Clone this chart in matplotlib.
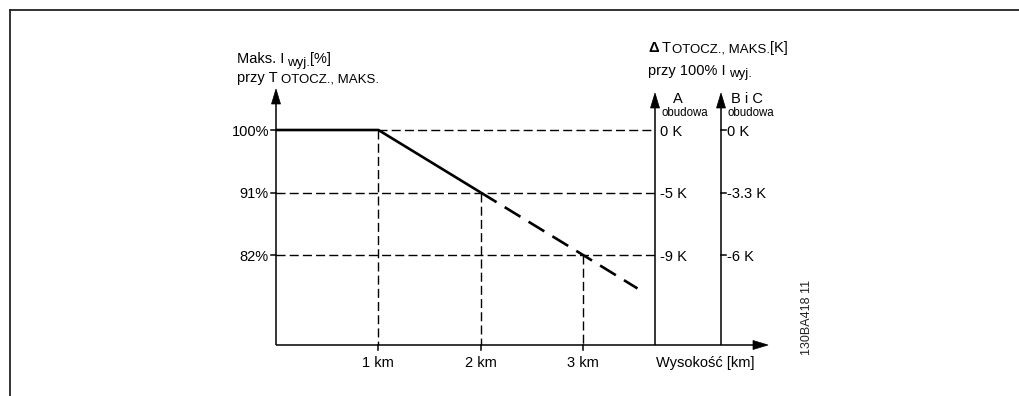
import matplotlib
matplotlib.use("Agg")
import matplotlib.pyplot as plt
from matplotlib.transforms import Affine2D
from matplotlib.patches import Polygon

plt.rcParams['font.family'] = ['Liberation Sans', 'DejaVu Sans']

# ---- data -------------------------------------------------------------
altitude_km = [0, 1, 2]                 # solid derating curve
max_current_pct = [100, 100, 91]
ext_altitude_km = [2, 3, 3.53]          # dashed continuation
ext_current_pct = [91, 82, 77.2]
tick_km = [1, 2, 3]
tick_km_labels = ['1 km', '2 km', '3 km']
level_pct = [100, 91, 82]
level_labels = ['100%', '91%', '82%']
delta_t_a = ['0 K', '-5 K', '-9 K']        # enclosure A
delta_t_bc = ['0 K', '-3.3 K', '-6 K']     # enclosures B and C

# ---- canvas -----------------------------------------------------------
W, H = 1019, 396
fig = plt.figure(figsize=(W / 100, H / 100), dpi=100)
fig.patch.set_facecolor('white')
ax = fig.add_axes([0, 0, 1, 1])
ax.axis('off')

# pixel layout of the data scale
X0, SX = 276.0, 102.4      # x pixel of 0 km, pixels per km
Y100, SY = 130.0, 6.95     # y pixel of 100 %, pixels per %
ax.set_xlim(-X0 / SX, (W - X0) / SX)
ax.set_ylim(100 - (H - Y100) / SY, 100 + Y100 / SY)

def km(px):
    return (px - X0) / SX

def pct(py):
    return 100 - (py - Y100) / SY

BLACK = '#000000'
base_pct = pct(345)          # horizontal axis position
top_pct = pct(89)            # arrow tips of the vertical axes
axis_a_km = km(655)
axis_bc_km = km(721)
xaxis_end_km = km(768)

# outer frame (top and left edges)
fig.add_artist(plt.Line2D([10 / W, 1], [1 - 9.5 / H] * 2, transform=fig.transFigure,
                          color='#222222', lw=1.3))
fig.add_artist(plt.Line2D([10 / W] * 2, [0, 1 - 9.5 / H], transform=fig.transFigure,
                          color='#222222', lw=1.3))

AX_LW = 1.1
GRID_KW = dict(color=BLACK, lw=1.0, dashes=(6.5, 3))

def arrow(x_km, y_pct, direction):
    """Filled triangular arrow head with its tip at (x_km, y_pct)."""
    L, Wd = 15, 4.5
    if direction == 'up':
        pts = [(x_km, y_pct), (x_km - Wd / SX, y_pct - L / SY), (x_km + Wd / SX, y_pct - L / SY)]
    else:
        pts = [(x_km, y_pct), (x_km - L / SX, y_pct + Wd / SY), (x_km - L / SX, y_pct - Wd / SY)]
    ax.add_patch(Polygon(pts, closed=True, facecolor=BLACK, edgecolor=BLACK, lw=0.5))

# axes
ax.plot([0, 0], [base_pct, top_pct - 2 / SY], color=BLACK, lw=AX_LW, solid_capstyle='butt')
arrow(0, top_pct, 'up')
ax.plot([0, xaxis_end_km - 2 / SX], [base_pct, base_pct], color=BLACK, lw=AX_LW,
        solid_capstyle='butt')
arrow(xaxis_end_km, base_pct, 'right')
for xa in (axis_a_km, axis_bc_km):
    ax.plot([xa, xa], [base_pct, top_pct - 6 / SY], color=BLACK, lw=AX_LW, solid_capstyle='butt')
    arrow(xa, top_pct - 4 / SY, 'up')

# reference grid lines
ax.plot([tick_km[0], axis_a_km], [level_pct[0]] * 2, **GRID_KW)
for lv in level_pct[1:]:
    ax.plot([0, axis_a_km], [lv] * 2, **GRID_KW)
for xk, lv in zip(tick_km, level_pct):
    ax.plot([xk, xk], [lv, base_pct], **GRID_KW)

# tick marks
for lv in level_pct:
    ax.plot([-5 / SX, 0], [lv, lv], color=BLACK, lw=AX_LW)
    ax.plot([axis_bc_km, axis_bc_km + 5 / SX], [lv, lv], color=BLACK, lw=AX_LW)
for xk in tick_km:
    ax.plot([xk, xk], [base_pct, base_pct - 5 / SY], color=BLACK, lw=AX_LW)

# derating curve
ax.plot(altitude_km, max_current_pct, color=BLACK, lw=1.9, solid_capstyle='butt',
        solid_joinstyle='miter')
ax.plot(ext_altitude_km, ext_current_pct, color=BLACK, lw=1.9, dashes=(7, 3.6))

# ---- text -------------------------------------------------------------
FS = 10.5
SMALL = 9.5

for lv, lab in zip(level_pct, level_labels):
    ax.text(km(269), lv, lab, fontsize=FS, ha='right', va='center_baseline')
for xk, lab in zip(tick_km, tick_km_labels):
    ax.text(xk, pct(362), lab, fontsize=FS, ha='center', va='center_baseline')
ax.text(km(705), pct(362), 'Wysokość [km]', fontsize=FS, ha='center', va='center_baseline')

for lv, lab in zip(level_pct, delta_t_a):
    ax.text(axis_a_km + 5 / SX, lv, lab, fontsize=FS, ha='left', va='center_baseline')
for lv, lab in zip(level_pct, delta_t_bc):
    ax.text(axis_bc_km + 6 / SX, lv, lab, fontsize=FS, ha='left', va='center_baseline')

ax.text(km(678), pct(97), 'A', fontsize=FS, ha='center', va='center_baseline')
ax.text(km(661), pct(112), 'obudowa', fontsize=8.3, ha='left', va='center_baseline')
ax.text(km(731), pct(97), 'B i C', fontsize=FS, ha='left', va='center_baseline')
ax.text(km(728), pct(112), 'obudowa', fontsize=8.3, ha='left', va='center_baseline')

ax.text(km(807), pct(317), '130BA418 11', fontsize=9, rotation=90, ha='center',
        va='center', color='#222222')

# mixed-size header lines, laid out piece by piece in pixel space
PX = Affine2D().scale(1, -1).translate(0, H)
renderer = fig.canvas.get_renderer()

def text_run(x, y, parts):
    for s, size, dy, gap, weight in parts:
        t = fig.text(x, y + dy, s, fontsize=size, transform=PX, ha='left', va='baseline',
                     fontweight=weight)
        x += t.get_window_extent(renderer).width + gap

text_run(237, 63, [('Maks. I', FS, 0, 3, 'normal'), ('wyj.', SMALL, 3, 0, 'normal'),
                   ('[%]', FS, 0, 0, 'normal')])
text_run(237, 82, [('przy T', FS, 0, 3, 'normal'), ('OTOCZ., MAKS.', SMALL, 0, 0, 'normal')])
text_run(648, 52, [('Δ', FS, 0, 3, 'bold'), ('T', FS, 0, 1, 'normal'),
                   ('OTOCZ., MAKS.', SMALL, 0, 0, 'normal'), ('[K]', FS, 0, 0, 'normal')])
text_run(648, 75, [('przy 100% I', FS, 0, 3, 'normal'), ('wyj.', SMALL, 2, 0, 'normal')])

fig.savefig('out.png', dpi=100, facecolor='white')
